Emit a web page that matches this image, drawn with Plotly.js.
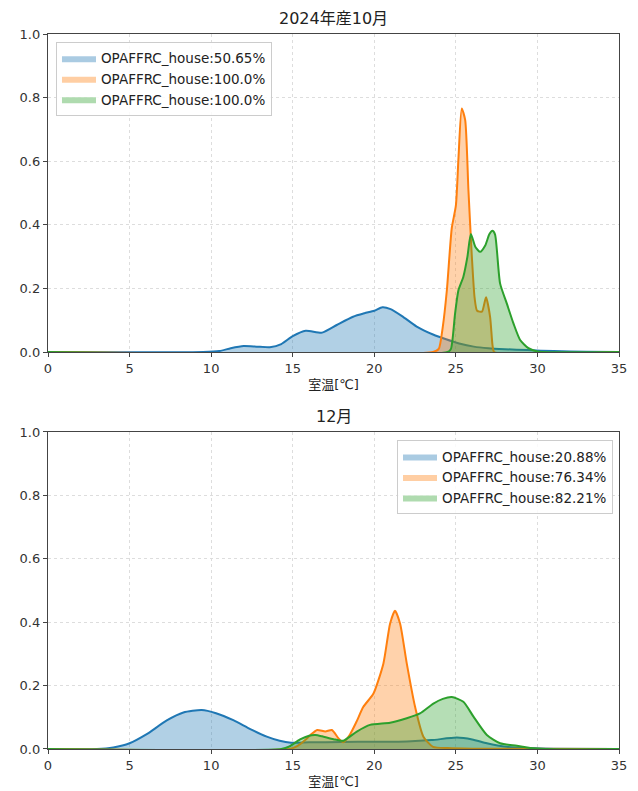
<!DOCTYPE html>
<html>
<head>
<meta charset="utf-8">
<script src="https://cdn.plot.ly/plotly-3.0.1.min.js"></script>
<style>html,body{margin:0;padding:0;background:#fff}#chart{width:638px;height:791px}</style>
</head>
<body>
<div id="chart"></div>
<script>
// ---- Data ----
const titleTop = "2024年産10月";
const titleBottom = "12月";
const xLabel = "室温[℃]";

const legendTop = ["OPAFFRC_house:50.65%", "OPAFFRC_house:100.0%", "OPAFFRC_house:100.0%"];
const legendBottom = ["OPAFFRC_house:20.88%", "OPAFFRC_house:76.34%", "OPAFFRC_house:82.21%"];

// October (top)
const octBlueX = [0, 9.5, 10.5, 11.2, 12, 12.8, 13.6, 14.3, 15, 15.8, 16.8, 17.7, 18.7, 19.4, 20, 20.5, 21, 21.7, 22.6, 23.6, 24.4, 25.2, 26.1, 27, 28, 29.4, 31, 33, 35];
const octBlueY = [0, 0, 0.003, 0.012, 0.019, 0.017, 0.015, 0.025, 0.05, 0.067, 0.061, 0.085, 0.111, 0.122, 0.13, 0.141, 0.135, 0.113, 0.08, 0.055, 0.04, 0.027, 0.017, 0.012, 0.009, 0.006, 0.003, 0.001, 0];

const octOrangeX = [0, 23.6, 23.95, 24.2, 24.45, 24.75, 25.0, 25.16, 25.36, 25.57, 25.77, 25.98, 26.15, 26.3, 26.6, 26.85, 27.1, 27.25, 27.35, 35];
const octOrangeY = [0, 0, 0.01, 0.08, 0.195, 0.39, 0.46, 0.61, 0.766, 0.73, 0.51, 0.30, 0.17, 0.13, 0.127, 0.172, 0.11, 0.02, 0, 0];

const octGreenX = [0, 24.5, 24.7, 24.95, 25.16, 25.46, 25.71, 25.92, 26.2, 26.49, 26.8, 27.05, 27.24, 27.4, 27.71, 28.12, 28.53, 28.94, 29.45, 30, 35];
const octGreenY = [0, 0, 0.01, 0.12, 0.195, 0.237, 0.30, 0.371, 0.33, 0.315, 0.335, 0.37, 0.381, 0.37, 0.216, 0.153, 0.09, 0.038, 0.012, 0.002, 0];

// December (bottom)
const decBlueX = [0, 3, 4, 5, 6, 7.28, 8.3, 9.42, 10.3, 11.36, 12.4, 13.41, 14.2, 14.9, 16, 18, 20, 22, 23.5, 25.06, 26, 26.9, 28.1, 29.5, 31, 35];
const decBlueY = [0, 0, 0.005, 0.018, 0.045, 0.09, 0.115, 0.123, 0.113, 0.091, 0.063, 0.039, 0.026, 0.02, 0.021, 0.022, 0.023, 0.024, 0.028, 0.036, 0.03, 0.018, 0.007, 0.003, 0.001, 0];

const decOrangeX = [0, 14.8, 15.3, 15.8, 16.1, 16.5, 17.0, 17.4, 17.8, 18.1, 18.5, 18.9, 19.33, 19.95, 20.56, 20.97, 21.27, 21.58, 21.99, 22.5, 23.01, 23.6, 24.5, 26, 35];
const decOrangeY = [0, 0, 0.01, 0.03, 0.045, 0.06, 0.055, 0.06, 0.034, 0.021, 0.045, 0.085, 0.133, 0.175, 0.27, 0.396, 0.436, 0.396, 0.27, 0.133, 0.039, 0.007, 0.003, 0.001, 0];

const decGreenX = [0, 14.3, 14.8, 15.45, 16.0, 16.4, 16.8, 17.5, 18.1, 18.93, 19.74, 20.97, 21.99, 22.8, 23.62, 24.2, 24.75, 25.46, 26.08, 26.9, 27.71, 28.74, 29.55, 30.5, 35];
const decGreenY = [0, 0, 0.008, 0.03, 0.042, 0.044, 0.04, 0.031, 0.026, 0.055, 0.076, 0.083, 0.097, 0.112, 0.143, 0.158, 0.164, 0.149, 0.102, 0.044, 0.018, 0.01, 0.003, 0, 0];

const xTicks = [0, 5, 10, 15, 20, 25, 30, 35];
const yTicks = [0, 0.2, 0.4, 0.6, 0.8, 1.0];

// ---- Styles ----
const lineColors = ["#1f77b4", "#ff7f0e", "#2ca02c"];
const fillColors = ["rgba(31,119,180,0.35)", "rgba(255,127,14,0.35)", "rgba(44,160,44,0.35)"];
const fillLegend = ["rgba(31,119,180,0.38)", "rgba(255,127,14,0.38)", "rgba(44,160,44,0.38)"];

function area(x, y, i, xa, ya) {
  return {x: x, y: y, xaxis: xa, yaxis: ya, type: "scatter", mode: "lines",
    line: {color: lineColors[i], width: 2, shape: "spline", smoothing: 0.6},
    fill: "tozeroy", fillcolor: fillColors[i], showlegend: false, hoverinfo: "skip"};
}
function legItem(name, i, xa, ya, leg) {
  return {x: [null], y: [null], xaxis: xa, yaxis: ya, type: "scatter", mode: "lines",
    name: name, line: {width: 0, color: fillLegend[i]}, fill: "tozeroy", fillcolor: fillLegend[i],
    showlegend: true, legend: leg};
}

const data = [
  area(octBlueX, octBlueY, 0, "x", "y"),
  area(octOrangeX, octOrangeY, 1, "x", "y"),
  area(octGreenX, octGreenY, 2, "x", "y"),
  area(decBlueX, decBlueY, 0, "x2", "y2"),
  area(decOrangeX, decOrangeY, 1, "x2", "y2"),
  area(decGreenX, decGreenY, 2, "x2", "y2"),
  legItem(legendTop[0], 0, "x", "y", "legend"),
  legItem(legendTop[1], 1, "x", "y", "legend"),
  legItem(legendTop[2], 2, "x", "y", "legend"),
  legItem(legendBottom[0], 0, "x2", "y2", "legend2"),
  legItem(legendBottom[1], 1, "x2", "y2", "legend2"),
  legItem(legendBottom[2], 2, "x2", "y2", "legend2")
];

const font = "'DejaVu Sans', 'Noto Sans CJK JP', sans-serif";
function xax(anchor) {
  return {anchor: anchor, range: [0, 35], tickvals: xTicks, ticktext: xTicks.map(String),
    showline: true, mirror: true, linecolor: "#444", linewidth: 1.2,
    ticks: "outside", ticklen: 4, tickcolor: "#444",
    showgrid: true, gridcolor: "#dddddd", griddash: "dot", zeroline: false,
    tickfont: {size: 13, color: "#333", family: font},
    title: {text: xLabel, font: {size: 13, color: "#222", family: font}, standoff: 5}};
}
function yax(anchor, dom) {
  return {anchor: anchor, domain: dom, range: [0, 1.0], tickvals: yTicks, tickformat: ".1f",
    showline: true, mirror: true, linecolor: "#444", linewidth: 1.2,
    ticks: "outside", ticklen: 4, tickcolor: "#444",
    showgrid: true, gridcolor: "#dddddd", griddash: "dot", zeroline: false,
    tickfont: {size: 13, color: "#333", family: font}};
}

const legFont = {size: 13.5, color: "#222", family: font};
const layout = {
  width: 638, height: 791,
  margin: {l: 48, r: 19, t: 34, b: 42},
  paper_bgcolor: "#fff", plot_bgcolor: "#fff",
  font: {family: font, color: "#222"},
  xaxis: xax("y"),
  yaxis: yax("x", [0.5552, 1]),
  xaxis2: xax("y2"),
  yaxis2: yax("x2", [0, 0.4434]),
  legend: {x: 0.014, y: 0.989, xanchor: "left", yanchor: "top",
    bgcolor: "rgba(255,255,255,0.85)", bordercolor: "#cccccc", borderwidth: 1,
    font: legFont, tracegroupgap: 0, itemwidth: 34},
  legend2: {x: 0.9895, y: 0.432, xanchor: "right", yanchor: "top",
    bgcolor: "rgba(255,255,255,0.85)", bordercolor: "#cccccc", borderwidth: 1,
    font: legFont, tracegroupgap: 0, itemwidth: 34},
  annotations: [
    {text: titleTop, xref: "paper", yref: "paper", x: 0.5, y: 1, yshift: 4, xanchor: "center", yanchor: "bottom",
      showarrow: false, font: {size: 16, color: "#222", family: font}},
    {text: titleBottom, xref: "paper", yref: "paper", x: 0.5, y: 0.4434, yshift: 4, xanchor: "center", yanchor: "bottom",
      showarrow: false, font: {size: 16, color: "#222", family: font}}
  ]
};

Plotly.newPlot("chart", data, layout, {displayModeBar: false, staticPlot: true});
</script>
</body>
</html>
